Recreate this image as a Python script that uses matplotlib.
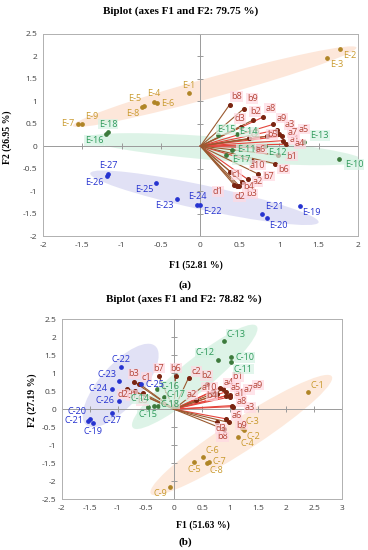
import matplotlib
matplotlib.use('Agg')
import matplotlib.pyplot as plt
from matplotlib.patches import Ellipse
import numpy as np

# ---------------- data: chart (a) ----------------
orange_a_labels = ['E-1', 'E-2', 'E-3', 'E-4', 'E-5', 'E-6', 'E-7', 'E-8', 'E-9']
orange_a_x = [-0.15, 1.77, 1.61, -0.59, -0.72, -0.55, -1.55, -0.74, -1.50]
orange_a_y = [1.18, 2.15, 1.96, 0.99, 0.90, 0.95, 0.50, 0.87, 0.50]

green_a_labels = ['E-10', 'E-11', 'E-12', 'E-13', 'E-14', 'E-15', 'E-16', 'E-17', 'E-18']
green_a_x = [1.76, 0.40, 0.82, 1.32, 0.47, 0.22, -1.20, 0.33, -1.17]
green_a_y = [-0.29, -0.08, 0.00, 0.08, 0.27, 0.24, 0.27, -0.21, 0.31]

blue_a_labels = ['E-19', 'E-20', 'E-21', 'E-22', 'E-23', 'E-24', 'E-25', 'E-26', 'E-27']
blue_a_x = [1.26, 0.84, 0.78, 0.00, -0.30, -0.04, -0.56, -1.19, -1.17]
blue_a_y = [-1.33, -1.61, -1.50, -1.30, -1.18, -1.30, -0.83, -0.66, -0.62]

var_a_labels = ['a1', 'a2', 'a3', 'a4', 'a5', 'a6', 'a7', 'a8', 'a9', 'a10',
                'b1', 'b2', 'b3', 'b4', 'b5', 'b6', 'b7', 'b8', 'b9',
                'c1', 'c2', 'd1', 'd2', 'd3']
var_a_x = [1.05, 0.60, 0.97, 1.08, 1.03, 0.70, 1.00, 0.79, 0.92, 0.66,
           0.98, 0.67, 0.49, 0.53, 0.85, 0.94, 0.73, 0.37, 0.55,
           0.38, 0.62, 0.43, 0.46, 0.52]
var_a_y = [0.12, -0.74, 0.36, 0.04, 0.22, -0.04, 0.26, 0.64, 0.48, -0.34,
           -0.20, 0.58, -0.88, -0.80, 0.22, -0.39, -0.62, 0.92, 0.83,
           -0.57, 0.17, -0.87, -0.88, 0.43]

# ---------------- data: chart (b) ----------------
orange_b_labels = ['C-1', 'C-2', 'C-3', 'C-4', 'C-5', 'C-6', 'C-7', 'C-8', 'C-9']
orange_b_x = [2.38, 1.24, 1.22, 1.14, 0.36, 0.51, 0.62, 0.58, -0.07]
orange_b_y = [0.48, -0.58, -0.52, -0.77, -1.47, -1.32, -1.46, -1.51, -2.16]

green_b_labels = ['C-10', 'C-11', 'C-12', 'C-13', 'C-14', 'C-15', 'C-16', 'C-17', 'C-18']
green_b_x = [1.02, 1.02, 0.78, 0.89, -0.36, -0.47, -0.30, -0.18, -0.29]
green_b_y = [1.44, 1.30, 1.38, 1.89, 0.09, 0.06, 0.55, 0.35, 0.10]

blue_b_labels = ['C-19', 'C-20', 'C-21', 'C-22', 'C-23', 'C-24', 'C-25', 'C-26', 'C-27']
blue_b_x = [-1.45, -1.50, -1.54, -0.94, -0.98, -1.11, -0.59, -0.98, -1.10]
blue_b_y = [-0.39, -0.26, -0.32, 1.17, 0.79, 0.57, 0.69, 0.23, -0.10]

var_b_labels = ['a1', 'a2', 'a3', 'a4', 'a5', 'a6', 'a7', 'a8', 'a9', 'a10',
                'b1', 'b2', 'b3', 'b4', 'b5', 'b6', 'b7', 'b8', 'b9',
                'c1', 'c2', 'd1', 'd2', 'd3']
var_b_x = [0.92, 0.40, 1.05, 0.82, 0.92, 0.93, 0.99, 1.03, 1.00, 0.70,
           0.88, 0.58, -0.71, 0.77, -0.56, 0.03, -0.27, 0.89, 0.98,
           -0.62, 0.26, -0.70, -0.83, 0.76]
var_b_y = [0.37, 0.26, 0.07, 0.60, 0.48, -0.27, 0.34, 0.10, 0.40, 0.50,
           0.55, 0.71, 0.76, 0.41, 0.45, 0.92, 0.92, -0.56, -0.37,
           0.71, 0.87, 0.50, 0.57, -0.37]

# ---------------- styling (label placement, ellipses) ----------------
pos_orange_a = ['t', 'br', 'br', 't', 'tl', 'r', 'l', 'bl', 'tr']
pos_green_a = ['br', 'r', 'br', 'tr', 'r', 'r', 'bl', 'r', 't']
pos_blue_a = ['br', 'br', 'tr', 'br', 'bl', 't', 'bl', 'bl', 't']
pos_var_a = ['r'] * 24

pos_orange_b = ['tr', 'br', 'tr', 'br', 'b', 'tr', 'r', 'br', 'bl']
pos_green_b = ['r', 'br', 'tl', 'tr', 'l', 'b', 'r', 'r', 'r']
pos_blue_b = ['b', 'tl', 'l', 't', 'tl', 'l', 'r', 'l', 'b']
pos_var_b = ['r', 'tl', 'br', 'r', 'r', 'tr', 'r', 'tr', 'r', 'l',
             't', 't', 't', 'r', 'b', 't', 't', 'b', 'br',
             'tr', 'tr', 'l', 'l', 'b']

# label-centre offsets in points (override the codes above)
off_a = {'b8': (5, 6), 'b9': (6, 7.5), 'b2': (1.5, 6), 'a8': (5.5, 6.5), 'd3': (-1, 6),
         'a9': (6.5, 4.5), 'a3': (9, 3.5), 'a7': (10, 1.2), 'a5': (16, 5), 'b5': (3.5, 1.2),
         'a1': (8, 0.8), 'a4': (10.5, 0.3), 'c2': (4, 2.5), 'a6': (4, -1), 'b1': (10, -0.8),
         'a10': (3.5, -2.8), 'b6': (6.5, -4), 'b7': (8, -1.5), 'c1': (4.5, -2), 'a2': (7, -1.5),
         'b4': (4.5, -3.5), 'd1': (-12, -4.5), 'd2': (2, -8), 'b3': (9, -6),
         'E-15': (6, 4), 'E-14': (8, 1.5), 'E-11': (10, 0), 'E-12': (9, -4.5),
         'E-17': (11, -3), 'E-13': (11, 5), 'E-10': (11, -4)}
off_b = {'a4': (6.5, 3.5), 'a5': (7, 3.5), 'a1': (10.5, 1.8), 'a7': (14, 5.5), 'a9': (20, 7),
         'b1': (10.5, 9), 'a10': (-3, 3), 'a8': (7, 3), 'a3': (12.5, -0.5), 'a6': (7.5, 2.5),
         'b9': (9, -2), 'b8': (-1, -5.5), 'd3': (3, -4.5), 'b4': (-4, -1), 'a2': (-3, 3.5),
         'd2': (-3, -4), 'd1': (-2, -3), 'C-14': (-10, 5), 'C-18': (9, 1), 'C-16': (9, 2),
         'C-17': (9, 1.5)}

# ellipse: (cx, cy, width, height, angle) in data units
ell_a = [((0.18, 1.32, 4.0, 0.42, 26), '#fde3d4'),
         ((0.30, -0.07, 3.55, 0.52, -8), '#d8f2e3'),
         ((0.05, -1.15, 3.1, 0.52, -21), '#dcdcf4')]
ell_b = [((1.20, -0.72, 4.6, 0.75, 46), '#fde6d6'),
         ((0.37, 0.90, 3.6, 0.70, 53), '#d8f2e3'),
         ((-0.95, 0.66, 2.55, 0.85, 64), '#dcdcf4')]

C_OR_LAB = '#c99a2e'
C_OR_PT = '#b08526'
C_GR_LAB = '#2f9a5c'
C_GR_PT = '#3c7a3c'
C_BL = '#2633d0'
C_VAR_LAB = '#b5473a'
C_VAR_PT = '#7a2410'
C_RED = '#e4453c'
C_BROWN = '#9a5a30'

plt.rcParams['font.family'] = ['Open Sans', 'DejaVu Sans']

OFFS = {'r': (3, 0, 'left', 'center'), 'l': (-3, 0, 'right', 'center'),
        't': (0, 2.5, 'center', 'bottom'), 'b': (0, -2.5, 'center', 'top'),
        'tr': (2, 1.5, 'left', 'bottom'), 'tl': (-2, 1.5, 'right', 'bottom'),
        'br': (2, -1.5, 'left', 'top'), 'bl': (-2, -1.5, 'right', 'top')}


def label(ax, x, y, s, pos, color, override, box=None):
    if s in override:
        dx, dy = override[s]
        ha, va = 'center', 'center'
    else:
        dx, dy, ha, va = OFFS[pos]
    kw = {}
    if box:
        kw['bbox'] = dict(boxstyle='square,pad=0.08', fc=box, ec='none', alpha=0.7)
    ax.annotate(s, (x, y), xytext=(dx, dy), textcoords='offset points',
                ha=ha, va=va, fontsize=6.6, color=color, zorder=6, **kw)


def draw(ax, groups, variables, ells, override, xlim, ylim, xticks, yticks):
    ax.set_xlim(*xlim)
    ax.set_ylim(*ylim)
    for (cx, cy, w, h, ang), col in ells:
        ax.add_patch(Ellipse((cx, cy), w, h, angle=ang, fc=col, ec='none', alpha=0.85, zorder=0))
    ax.axhline(0, color='#9a9a9a', lw=0.7, zorder=1)
    ax.axvline(0, color='#9a9a9a', lw=0.7, zorder=1)
    ax.plot([0] * len(yticks), yticks, ls='none', marker='_', ms=5, mew=0.7, color='#9a9a9a', zorder=1)
    ax.plot(xticks, [0] * len(xticks), ls='none', marker='|', ms=5, mew=0.7, color='#9a9a9a', zorder=1)
    vl, vx, vy, vp = variables
    for s, x, y, p in zip(vl, vx, vy, vp):
        col = C_RED if s.startswith('a') else C_BROWN
        ax.plot([0, x], [0, y], color=col, lw=0.8, zorder=3)
        label(ax, x, y, s, p, C_VAR_LAB, override, box='#ffd9e2')
    ax.plot(vx, vy, ls='none', marker='o', ms=2.6, color=C_VAR_PT, zorder=4)
    for labs, xs, ys, ps, lc, pc, box in groups:
        ax.plot(xs, ys, ls='none', marker='o', ms=2.4, color=pc, zorder=5)
        for s, x, y, p in zip(labs, xs, ys, ps):
            label(ax, x, y, s, p, lc, override, box=box)
    ax.set_xticks(xticks)
    ax.set_yticks(yticks)
    ax.set_xticklabels([('%g' % t) for t in xticks])
    ax.set_yticklabels([('%g' % t) for t in yticks])
    ax.tick_params(length=0, labelsize=6, colors='#404040', pad=4)
    for sp in ax.spines.values():
        sp.set_color('#b0b0b0')
        sp.set_linewidth(0.7)


fig = plt.figure(figsize=(3.68, 5.5), dpi=100)

axa = fig.add_axes([0.1168, 0.5709, 0.856, 0.368])
draw(axa,
     [(orange_a_labels, orange_a_x, orange_a_y, pos_orange_a, C_OR_LAB, C_OR_PT, None),
      (green_a_labels, green_a_x, green_a_y, pos_green_a, C_GR_LAB, C_GR_PT, '#d6f3e4'),
      (blue_a_labels, blue_a_x, blue_a_y, pos_blue_a, C_BL, C_BL, None)],
     (var_a_labels, var_a_x, var_a_y, pos_var_a), ell_a, off_a,
     (-2, 2), (-2, 2.5), [-2, -1.5, -1, -0.5, 0, 0.5, 1, 1.5, 2],
     [-2, -1.5, -1, -0.5, 0, 0.5, 1, 1.5, 2, 2.5])

axb = fig.add_axes([0.1677, 0.0927, 0.7625, 0.3267])
draw(axb,
     [(orange_b_labels, orange_b_x, orange_b_y, pos_orange_b, C_OR_LAB, C_OR_PT, None),
      (green_b_labels, green_b_x, green_b_y, pos_green_b, C_GR_LAB, C_GR_PT, '#d6f3e4'),
      (blue_b_labels, blue_b_x, blue_b_y, pos_blue_b, C_BL, C_BL, None)],
     (var_b_labels, var_b_x, var_b_y, pos_var_b), ell_b, off_b,
     (-2, 3), (-2.5, 2.5), [-2, -1.5, -1, -0.5, 0, 0.5, 1, 1.5, 2, 2.5, 3],
     [-2.5, -2, -1.5, -1, -0.5, 0, 0.5, 1, 1.5, 2, 2.5])

serif = ['Liberation Serif', 'DejaVu Serif']
fig.text(0.49, 0.98, 'Biplot (axes F1 and F2: 79.75 %)', ha='center', va='center',
         fontsize=8, fontweight='bold', family=serif)
fig.text(0.532, 0.518, 'F1 (52.81 %)', ha='center', va='center', fontsize=7,
         fontweight='bold', family=serif)
fig.text(0.019, 0.75, 'F2 (26.95 %)', ha='center', va='center', rotation=90,
         fontsize=7, fontweight='bold', family=serif)
fig.text(0.503, 0.482, '(a)', ha='center', va='center', fontsize=8,
         fontweight='bold', family=serif)
fig.text(0.50, 0.456, 'Biplot (axes F1 and F2: 78.82 %)', ha='center', va='center',
         fontsize=8, fontweight='bold', family=serif)
fig.text(0.55, 0.045, 'F1 (51.63 %)', ha='center', va='center', fontsize=7,
         fontweight='bold', family=serif)
fig.text(0.087, 0.273, 'F2 (27.19 %)', ha='center', va='center', rotation=90,
         fontsize=7, fontweight='bold', family=serif)
fig.text(0.503, 0.015, '(b)', ha='center', va='center', fontsize=8,
         fontweight='bold', family=serif)

fig.savefig('out.png', dpi=100)
